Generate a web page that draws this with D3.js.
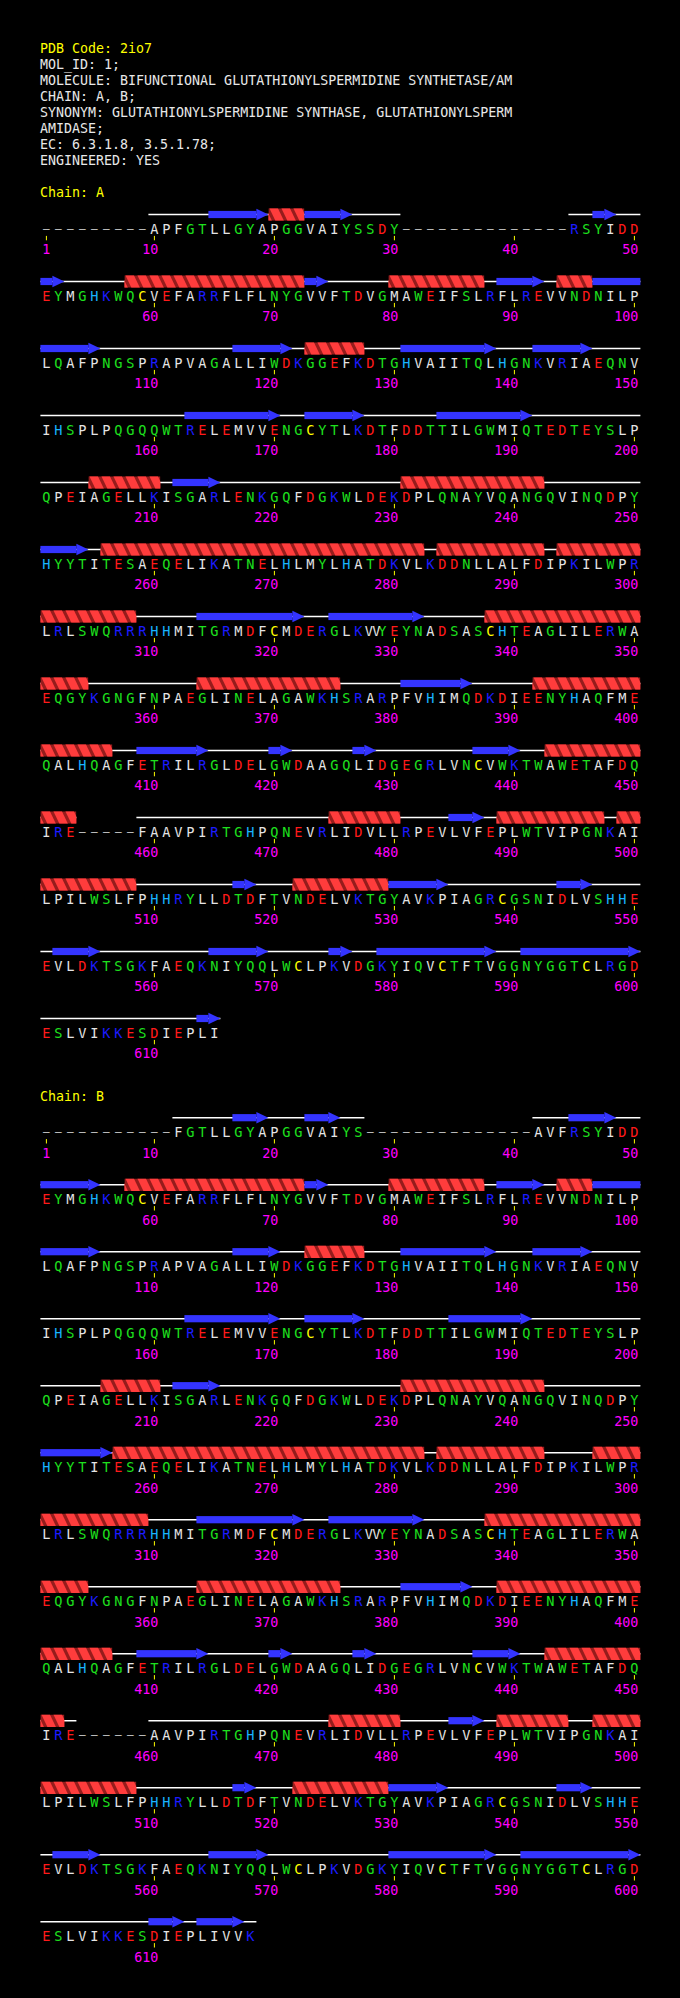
<!DOCTYPE html>
<html><head><meta charset="utf-8">
<script src="https://cdn.jsdelivr.net/npm/d3@7/dist/d3.min.js"></script>
<style>html,body{margin:0;padding:0;background:#000;}svg{display:block;}</style>
</head><body>
<script>
// ---------- data ----------
const pdbTitle = "PDB Code: 2io7";
const headerLines = [
  "MOL_ID: 1;",
  "MOLECULE: BIFUNCTIONAL GLUTATHIONYLSPERMIDINE SYNTHETASE/AM",
  "CHAIN: A, B;",
  "SYNONYM: GLUTATHIONYLSPERMIDINE SYNTHASE, GLUTATHIONYLSPERM",
  "AMIDASE;",
  "EC: 6.3.1.8, 3.5.1.78;",
  "ENGINEERED: YES"
];
const chainLabels = ["Chain: A", "Chain: B"];

const chainASeq = [
  "---------APFGTLLGYAPGGVAIYSSDY--------------RSYIDD",
  "EYMGHKWQCVEFARRFLFLNYGVVFTDVGMAWEIFSLRFLREVVNDNILP",
  "LQAFPNGSPRAPVAGALLIWDKGGEFKDTGHVAIITQLHGNKVRIAEQNV",
  "IHSPLPQGQQWTRELEMVVENGCYTLKDTFDDTTILGWMIQTEDTEYSLP",
  "QPEIAGELLKISGARLENKGQFDGKWLDEKDPLQNAYVQANGQVINQDPY",
  "HYYTITESAEQELIKATNELHLMYLHATDKVLKDDNLLALFDIPKILWPR",
  "LRLSWQRRRHHMITGRMDFCMDERGLKVYEYNADSASCHTEAGLILERWA",
  "EQGYKGNGFNPAEGLINELAGAWKHSRARPFVHIMQDKDIEENYHAQFME",
  "QALHQAGFETRILRGLDELGWDAAGQLIDGEGRLVNCVWKTWAWETAFDQ",
  "IRE-----FAAVPIRTGHPQNEVRLIDVLLRPEVLVFEPLWTVIPGNKAI",
  "LPILWSLFPHHRYLLDTDFTVNDELVKTGYAVKPIAGRCGSNIDLVSHHE",
  "EVLDKTSGKFAEQKNIYQQLWCLPKVDGKYIQVCTFTVGGNYGGTCLRGD",
  "ESLVIKKESDIEPLI"
];
const chainASS = [
  "         -----EEEEEHHHEEEE----              --EE--",
  "EE-----HHHHHHHHHHHHHHHEE-----HHHHHHHH-EEEE-HHHEEEE",
  "EEEEE-----------EEEEE-HHHHH---EEEEEEEE---EEEEE----",
  "------------EEEEEEEE--EEEEE------EEEEEEEE---------",
  "----HHHHHH-EEEE---------------HHHHHHHHHHHH--------",
  "EEEE-HHHHHHHHHHHHHHHHHHHHHHHHHHH-HHHHHHHHH-HHHHHHH",
  "HHHHHHHH-----EEEEEEEEE--EEEEEEEE-----HHHHHHHHHHHHH",
  "HHHH---------HHHHHHHHHHHH-----EEEEEE-----HHHHHHHHH",
  "HHHHHH--EEEEEE-----EE-----EE--------EEEE--HHHHHHHH",
  "HHH     ----------------HHHHHH----EEE-HHHHHHHHH-HH",
  "HHHHHHHH--------EE---HHHHHHHHEEEEE---------EEE----",
  "-EEEE---------EEEEE-----EE--EEEEEEEEEE--EEEEEEEEEE",
  "-------------EE"
];
const chainBSeq = [
  "-----------FGTLLGYAPGGVAIYS--------------AVFRSYIDD",
  "EYMGHKWQCVEFARRFLFLNYGVVFTDVGMAWEIFSLRFLREVVNDNILP",
  "LQAFPNGSPRAPVAGALLIWDKGGEFKDTGHVAIITQLHGNKVRIAEQNV",
  "IHSPLPQGQQWTRELEMVVENGCYTLKDTFDDTTILGWMIQTEDTEYSLP",
  "QPEIAGELLKISGARLENKGQFDGKWLDEKDPLQNAYVQANGQVINQDPY",
  "HYYTITESAEQELIKATNELHLMYLHATDKVLKDDNLLALFDIPKILWPR",
  "LRLSWQRRRHHMITGRMDFCMDERGLKVYEYNADSASCHTEAGLILERWA",
  "EQGYKGNGFNPAEGLINELAGAWKHSRARPFVHIMQDKDIEENYHAQFME",
  "QALHQAGFETRILRGLDELGWDAAGQLIDGEGRLVNCVWKTWAWETAFDQ",
  "IRE------AAVPIRTGHPQNEVRLIDVLLRPEVLVFEPLWTVIPGNKAI",
  "LPILWSLFPHHRYLLDTDFTVNDELVKTGYAVKPIAGRCGSNIDLVSHHE",
  "EVLDKTSGKFAEQKNIYQQLWCLPKVDGKYIQVCTFTVGGNYGGTCLRGD",
  "ESLVIKKESDIEPLIVVK"
];
const chainBSS = [
  "           -----EEE---EEE--              ---EEEE--",
  "EEEEE--HHHHHHHHHHHHHHHEE-----HHHHHHHH-EEEE-HHHEEEE",
  "EEEEE-----------EEEE--HHHHH---EEEEEEEE---EEEEE----",
  "------------EEEEEEEE--EEEEE-------EEEEEEE---------",
  "-----HHHHH-EEEE---------------HHHHHHHHHHHH--------",
  "EEEEEEHHHHHHHHHHHHHHHHHHHHHHHHHH-HHHHHHHHH----HHHH",
  "HHHHHHHHH----EEEEEEEEE--EEEEEEEE-----HHHHHHHHHHHHH",
  "HHHH---------HHHHHHHHHHHH-----EEEEEE--HHHHHHHHHHHH",
  "HHHHHH--EEEEEE-----EE-----EE--------EEEE--HHHHHHHH",
  "HH-      ---------------HHHHHH----EEE-HHHHHH--HHHH",
  "HHHHHHHH--------EE---HHHHHHHHEEEEE---------EEE----",
  "-EEEE---------EEEEE----------EEEEEEEEE--EEEEEEEEEE",
  "---------EEE-EEEE-"
];
// insertion-code residues sharing a numbered slot (e.g. 328A)
const insertions = [
  { chain: "A", residue: 328, aa: "V" },
  { chain: "B", residue: 328, aa: "V" }
];
const residuesPerRow = 50;

// residue colour classes
const aaClasses = ["DE", "KR", "H", "GTSYNQW", "C", "APFLIVM-"];
const aaClassColors = ["#ff1a1a", "#1c1cff", "#18b4ff", "#1ee01e", "#ffff00", "#e4e4e4"];

// ---------- drawing ----------
const W = 680, H = 1998;
const FONT = "'DejaVu Sans Mono', 'Liberation Mono', monospace";
const svg = d3.select("body").append("svg").attr("width", W).attr("height", H)
  .style("background", "#000");

const aaColor = d3.scaleOrdinal().domain(d3.range(aaClasses.length)).range(aaClassColors);
function colorOf(c) {
  const i = aaClasses.findIndex(s => s.includes(c));
  return i < 0 ? "#e4e4e4" : aaColor(i);
}

const x = d3.scaleLinear().domain([0, residuesPerRow]).range([40.4, 640.4]);

// header
const headerY = d3.scaleLinear().domain([0, 1]).range([53.3, 69.3]);
svg.append("text").attr("x", 40).attr("y", headerY(0)).attr("fill", "#ffff00")
  .style("font-family", FONT).style("font-size", "13.3px").text(pdbTitle);
svg.selectAll("text.hdr").data(headerLines).join("text").attr("class", "hdr")
  .attr("x", 40).attr("y", (d, i) => headerY(i + 1)).attr("fill", "#e8e8e8")
  .style("font-family", FONT).style("font-size", "13.3px")
  .style("white-space", "pre").text(d => d);

const defs = svg.append("defs");
let clipId = 0;

function drawChain(chainId, label, seqRows, ssRows, labelY) {
  const g = svg.append("g");
  g.append("text").attr("x", 40).attr("y", labelY).attr("fill", "#ffff00")
    .style("font-family", FONT).style("font-size", "13.3px").text(label);
  const rowY = d3.scaleLinear().domain([0, 1]).range([labelY + 31.2, labelY + 31.2 + 67]);
  const fullSS = ssRows.join("");

  ssRows.forEach((ss, r) => {
    const yc = rowY(r) - 14; // secondary structure centre line
    const runs = [];
    for (let k = 0; k < ss.length; k++) {
      const c = ss[k];
      if (runs.length && runs[runs.length - 1].type === c) runs[runs.length - 1].k1 = k;
      else runs.push({ type: c, k0: k, k1: k });
    }
    const spans = [];
    for (let k = 0; k < ss.length; k++) {
      if (ss[k] === " ") continue;
      if (spans.length && spans[spans.length - 1].k1 === k - 1) spans[spans.length - 1].k1 = k;
      else spans.push({ k0: k, k1: k });
    }
    g.selectAll(null).data(spans).join("line")
      .attr("x1", d => x(d.k0)).attr("x2", d => x(d.k1 + 1))
      .attr("y1", yc).attr("y2", yc).attr("stroke", "#ffffff").attr("stroke-width", 1.6);

    runs.forEach(run => {
      const x0 = x(run.k0), x1 = x(run.k1 + 1);
      if (run.type === "E") {
        const gi = r * residuesPerRow + run.k1 + 1;
        const arrow = fullSS[gi] !== "E";
        const bodyEnd = arrow ? x1 - 12 : x1;
        g.append("rect").attr("x", x0).attr("y", yc - 3.6).attr("width", Math.max(0, bodyEnd - x0))
          .attr("height", 7.2).attr("fill", "#3434ff");
        if (arrow) {
          g.append("path").attr("d", d3.line()([[bodyEnd, yc - 5.8], [x1, yc], [bodyEnd, yc + 5.8]]) + "Z")
            .attr("fill", "#3434ff");
        }
      } else if (run.type === "H") {
        const id = "hc" + (clipId++);
        defs.append("clipPath").attr("id", id).append("rect")
          .attr("x", x0).attr("y", yc - 6.2).attr("width", x1 - x0).attr("height", 12.4);
        const hg = g.append("g").attr("clip-path", `url(#${id})`);
        hg.append("rect").attr("x", x0).attr("y", yc - 6.2).attr("width", x1 - x0).attr("height", 12.4)
          .attr("fill", "#961c1c");
        const turns = d3.range(run.k0 - 1, run.k1 + 2);
        hg.selectAll(null).data(turns).join("path")
          .attr("d", k => {
            const a = x(k) + 1;
            return d3.line()([[a, yc - 6.2], [a + 8.5, yc - 6.2], [a + 14.5, yc + 6.2], [a + 6, yc + 6.2]]) + "Z";
          })
          .attr("fill", "#ff3c3c");
      }
    });
  });

  seqRows.forEach((seq, r) => {
    const yc = rowY(r);
    const chars = seq.split("").map((c, k) => ({ c, k, n: r * residuesPerRow + k + 1 }));
    const ins = insertions.filter(d => d.chain === chainId);
    g.selectAll(null).data(chars).join("text")
      .attr("x", d => x(d.k + 0.5) + (ins.some(i => i.residue === d.n) ? -1.5 : 0))
      .attr("y", d => d.c === "-" ? yc + 3.2 : yc + 5)
      .attr("text-anchor", "middle").attr("fill", d => colorOf(d.c))
      .style("font-family", FONT).style("font-size", d => d.c === "-" ? "11px" : "13.6px")
      .text(d => d.c === "-" ? "\u2013" : d.c);
    ins.forEach(i => {
      const k = i.residue - r * residuesPerRow - 1;
      if (k >= 0 && k < seq.length) {
        g.append("text").attr("x", x(k + 0.5) + 6).attr("y", yc + 5)
          .attr("text-anchor", "middle").attr("fill", colorOf(i.aa))
          .style("font-family", FONT).style("font-size", "13.6px").text(i.aa);
      }
    });
    const ticks = chars.filter(d => d.n === 1 || d.n % 10 === 0);
    g.selectAll(null).data(ticks).join("line")
      .attr("x1", d => x(d.k + 0.5)).attr("x2", d => x(d.k + 0.5))
      .attr("y1", yc + 7.4).attr("y2", yc + 11.8).attr("stroke", "#ffff00").attr("stroke-width", 1);
    g.selectAll(null).data(ticks).join("text")
      .attr("x", d => x(d.k + 0.5) + 4).attr("y", yc + 25.8)
      .attr("text-anchor", "end").attr("fill", "#ff00ff")
      .style("font-family", FONT).style("font-size", "13.4px").text(d => d.n);
  });
  return rowY(seqRows.length - 1);
}

const lastA = drawChain("A", chainLabels[0], chainASeq, chainASS, headerY(9));
drawChain("B", chainLabels[1], chainBSeq, chainBSS, lastA + 68);
</script>
</body></html>
